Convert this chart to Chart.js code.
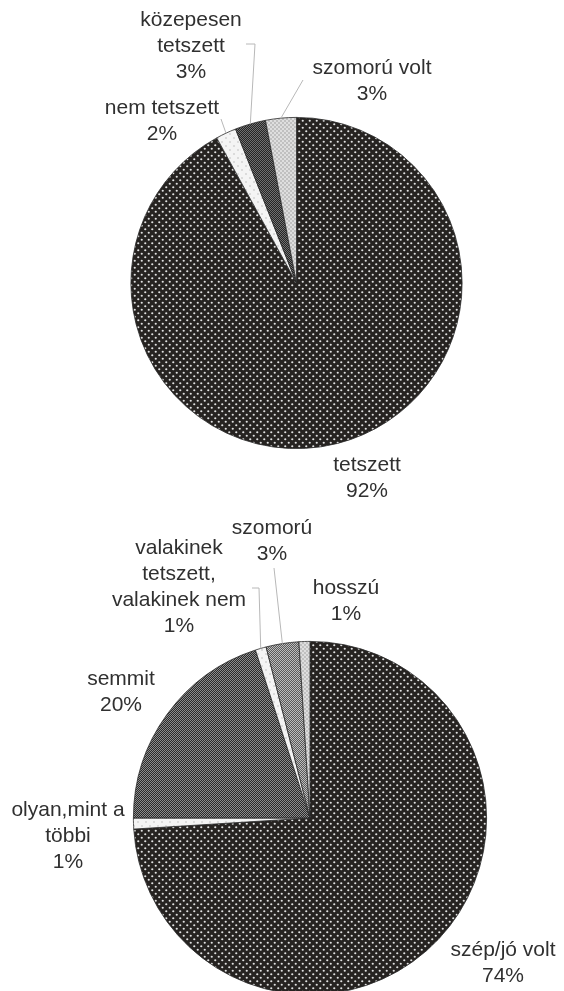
<!DOCTYPE html>
<html>
<head>
<meta charset="utf-8">
<script src="https://cdn.jsdelivr.net/npm/chart.js@4.4.0/dist/chart.umd.min.js"></script>
<style>
  html, body { margin: 0; padding: 0; background: #fff; overflow: hidden; }
  .box { position: absolute; left: 0; width: 564px; }
</style>
</head>
<body>
<div class="box" style="top:0;height:500px"><canvas id="pieTop" width="564" height="500"></canvas></div>
<div class="box" style="top:500px;height:500px"><canvas id="pieBottom" width="564" height="500"></canvas></div>
<script>
// data
const topLabels = [["tetszett"], ["nem tetszett"], ["közepesen", "tetszett"], ["szomorú volt"]];
const topValues = [92, 2, 3, 3];

const bottomLabels = [["szép/jó volt"], ["olyan,mint a", "többi"], ["semmit"], ["valakinek", "tetszett,", "valakinek nem"], ["szomorú"], ["hosszú"]];
const bottomValues = [74, 1, 20, 1, 3, 1];

// label layout (center x, first line y) and leader line points
const topLabelPos = [[367, 465], [162, 108], [191, 20], [372, 68]];
const topLeaders = [null, [[221, 119]], [[255, 44], [246, 44]], [[303, 80]]];
const bottomLabelPos = [[503, 450], [68, 310], [121, 179], [179, 48], [272, 28], [346, 88]];
const bottomLeaders = [null, null, null, [[259, 88], [252, 88]], [[274, 68]], null];

// fill patterns
function dotted(size, bg, fg, r) {
  const c = document.createElement("canvas");
  c.width = size; c.height = size;
  const g = c.getContext("2d");
  g.fillStyle = bg;
  g.fillRect(0, 0, size, size);
  g.fillStyle = fg;
  [[size / 4, size / 4], [size * 3 / 4, size * 3 / 4]].forEach(p => {
    g.beginPath();
    g.arc(p[0], p[1], r, 0, Math.PI * 2);
    g.fill();
  });
  return g.createPattern(c, "repeat");
}

function checker(cell, c1, c2) {
  const c = document.createElement("canvas");
  c.width = cell * 2; c.height = cell * 2;
  const g = c.getContext("2d");
  g.fillStyle = c1;
  g.fillRect(0, 0, cell * 2, cell * 2);
  g.fillStyle = c2;
  g.fillRect(0, 0, cell, cell);
  g.fillRect(cell, cell, cell, cell);
  return g.createPattern(c, "repeat");
}

const darkDots = dotted(7, "#262321", "#e2e2e2", 1.1);
const whiteDots = dotted(8, "#f4f4f4", "#b0b0b0", 0.7);
const lightDots = dotted(4, "#dedede", "#8a8a8a", 0.7);
const darkCheck = checker(1, "#252525", "#707070");
const midCheck = checker(1, "#2a2a2a", "#8c8c8c");
const grayCheck = checker(1, "#5a5a5a", "#bdbdbd");

const pieLabels = {
  id: "pieLabels",
  afterDraw(chart, args, opts) {
    const ctx = chart.ctx;
    const meta = chart.getDatasetMeta(0);
    const values = chart.data.datasets[0].data;
    ctx.save();
    meta.data.forEach((arc, i) => {
      const lead = opts.leaders[i];
      if (lead) {
        const mid = (arc.startAngle + arc.endAngle) / 2;
        ctx.strokeStyle = "#b8b8b8";
        ctx.lineWidth = 1;
        ctx.beginPath();
        ctx.moveTo(arc.x + Math.cos(mid) * arc.outerRadius, arc.y + Math.sin(mid) * arc.outerRadius);
        lead.forEach(p => ctx.lineTo(p[0], p[1]));
        ctx.stroke();
      }
      const lines = chart.data.labels[i].concat([values[i] + "%"]);
      const pos = opts.positions[i];
      ctx.fillStyle = "#303030";
      ctx.font = "21px 'Liberation Sans', Arial, sans-serif";
      ctx.textAlign = "center";
      ctx.textBaseline = "middle";
      lines.forEach((t, k) => ctx.fillText(t, pos[0], pos[1] + k * 26));
    });
    ctx.restore();
  }
};

const baseOptions = (padding, positions, leaders) => ({
  responsive: false,
  animation: false,
  layout: { padding: padding },
  plugins: {
    legend: { display: false },
    tooltip: { enabled: false },
    pieLabels: { positions: positions, leaders: leaders }
  }
});

// Top pie
new Chart(document.getElementById("pieTop"), {
  type: "pie",
  data: {
    labels: topLabels,
    datasets: [{
      data: topValues,
      backgroundColor: [darkDots, whiteDots, darkCheck, lightDots],
      borderColor: "#2a2a2a",
      borderWidth: 0.8
    }]
  },
  options: baseOptions({ left: 130, right: 101, top: 117, bottom: 51 }, topLabelPos, topLeaders),
  plugins: [pieLabels]
});

// Bottom pie
new Chart(document.getElementById("pieBottom"), {
  type: "pie",
  data: {
    labels: bottomLabels,
    datasets: [{
      data: bottomValues,
      backgroundColor: [darkDots, whiteDots, midCheck, whiteDots, grayCheck, lightDots],
      borderColor: "#2a2a2a",
      borderWidth: 0.8
    }]
  },
  options: baseOptions({ left: 133, right: 77, top: 141, bottom: 5 }, bottomLabelPos, bottomLeaders),
  plugins: [pieLabels]
});
</script>
</body>
</html>
